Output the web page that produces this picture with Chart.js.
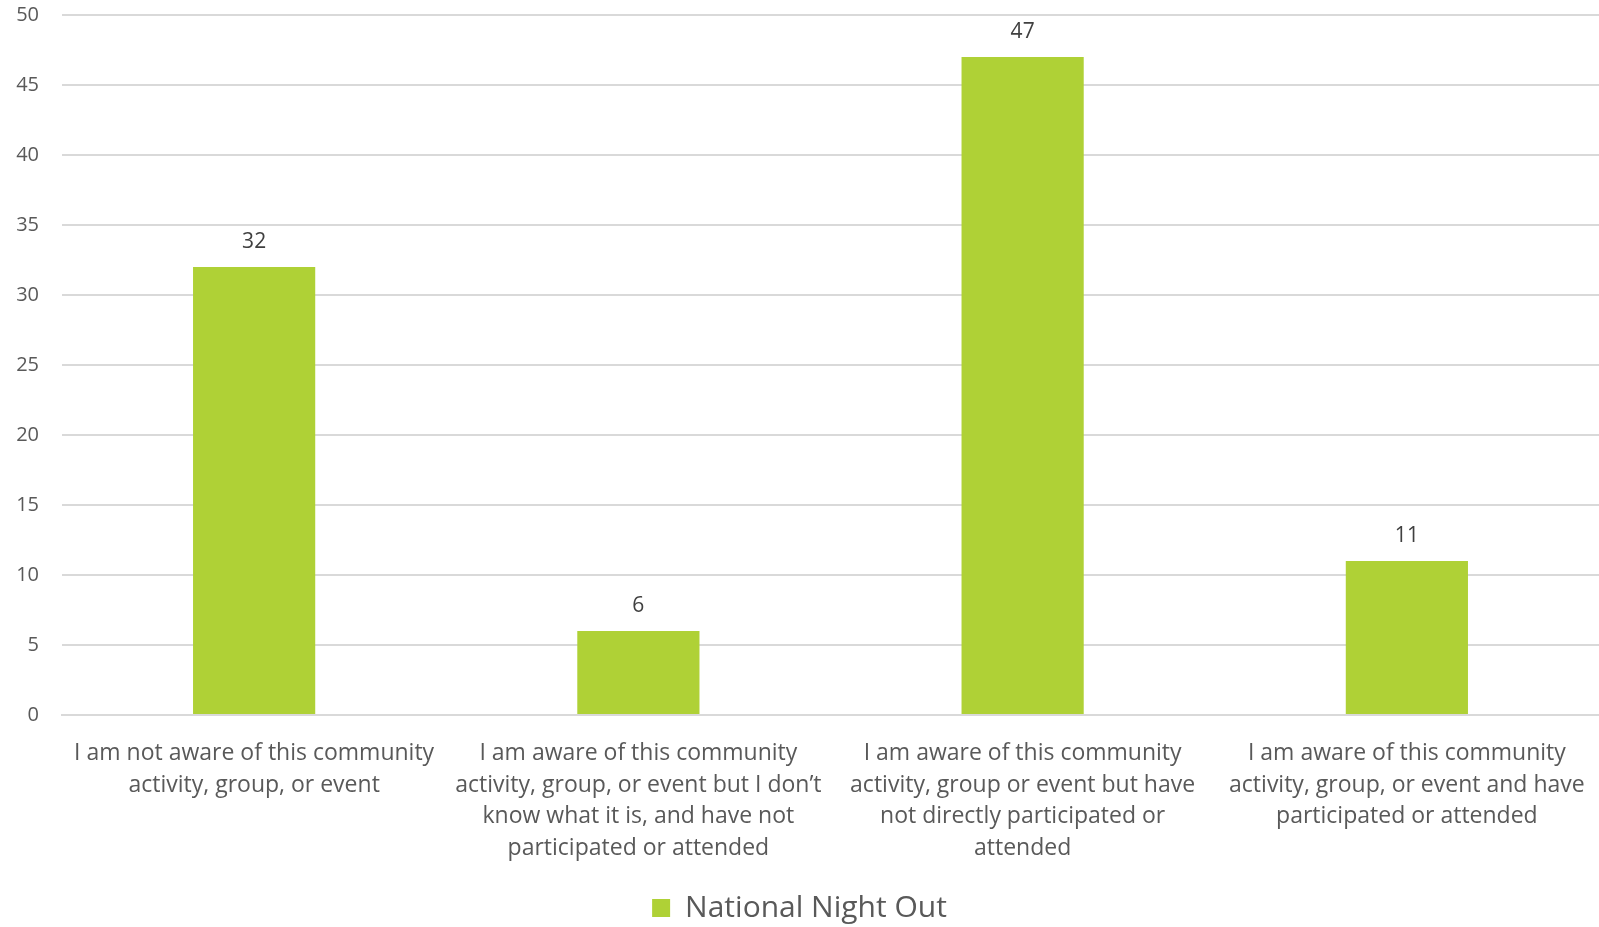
<!DOCTYPE html>
<html>
<head>
<meta charset="utf-8">
<script src="https://cdn.jsdelivr.net/npm/chart.js@4/dist/chart.umd.min.js"></script>
<style>
  html, body { margin: 0; padding: 0; background: #fff; }
  #wrap { width: 1599px; height: 927px; }
</style>
</head>
<body>
<div id="wrap"><canvas id="myChart"></canvas></div>
<script>
const categories = [
  ['I am not aware of this community', 'activity, group, or event'],
  ['I am aware of this community', 'activity, group, or event but I don\u2019t', 'know what it is, and have not', 'participated or attended'],
  ['I am aware of this community', 'activity, group or event but have', 'not directly participated or', 'attended'],
  ['I am aware of this community', 'activity, group, or event and have', 'participated or attended']
];
const seriesName = 'National Night Out';
const seriesValues = [32, 6, 47, 11];
const yTicks = [0, 5, 10, 15, 20, 25, 30, 35, 40, 45, 50];

const FONT = '"Open Sans", Lato, sans-serif';

// values above the bars
const barLabels = {
  id: 'barLabels',
  afterDatasetsDraw(chart) {
    const ctx = chart.ctx;
    const meta = chart.getDatasetMeta(0);
    ctx.save();
    ctx.font = '21px ' + FONT;
    ctx.fillStyle = '#404040';
    ctx.textAlign = 'center';
    ctx.textBaseline = 'bottom';
    meta.data.forEach((bar, i) => {
      ctx.fillText(String(chart.data.datasets[0].data[i]), bar.x, bar.y - 14);
    });
    ctx.restore();
  }
};

const ctx = document.getElementById('myChart').getContext('2d');
const myChart = new Chart(ctx, {
  type: 'bar',
  data: {
    labels: categories,
    datasets: [{
      label: seriesName,
      data: seriesValues,
      backgroundColor: '#afd136',
      borderWidth: 0,
      categoryPercentage: 1,
      barPercentage: 0.318
    }]
  },
  options: {
    responsive: true,
    maintainAspectRatio: false,
    animation: false,
    layout: { padding: { top: 15, right: 0, left: 0, bottom: -6 } },
    scales: {
      x: {
        grid: { display: false, drawTicks: false },
        border: { display: true, color: '#d9d9d9', width: 2 },
        ticks: {
          color: '#595959',
          font: { family: FONT, size: 23, lineHeight: 1.39 },
          padding: 22,
          maxRotation: 0,
          autoSkip: false
        },
        afterFit(scale) {
          scale.height = 178;
          scale.paddingLeft = 0;
          scale.paddingRight = 0;
        }
      },
      y: {
        min: 0,
        max: 50,
        afterBuildTicks(scale) { scale.ticks = yTicks.map(v => ({ value: v })); },
        grid: { color: '#d9d9d9', lineWidth: 2, drawTicks: false },
        border: { display: false },
        ticks: {
          color: '#595959',
          font: { family: FONT, size: 20 },
          padding: 23
        },
        afterFit(scale) {
          scale.width = 62;
          scale.paddingTop = 0;
        }
      }
    },
    plugins: {
      legend: {
        position: 'bottom',
        labels: {
          color: '#595959',
          font: { family: FONT, size: 30 },
          boxWidth: 18,
          boxHeight: 18,
          padding: 0
        }
      },
      tooltip: { enabled: false }
    }
  },
  plugins: [barLabels]
});
</script>
</body>
</html>
